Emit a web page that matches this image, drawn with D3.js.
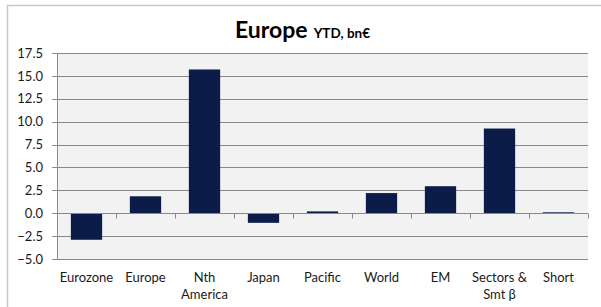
<!DOCTYPE html>
<html><head><meta charset="utf-8">
<script src="https://cdn.jsdelivr.net/npm/d3@7"></script>
<style>body{margin:0;background:#fff;} svg{display:block;}</style>
</head><body>
<svg id="c" width="601" height="307"></svg>
<script>
const categories = [["Eurozone"],["Europe"],["Nth","America"],["Japan"],["Pacific"],["World"],["EM"],["Sectors &","Smt β"],["Short"]];
const values = [-2.9, 1.85, 15.7, -1.05, 0.2, 2.2, 2.95, 9.25, 0.1];
const yTicks = [-5.0, -2.5, 0.0, 2.5, 5.0, 7.5, 10.0, 12.5, 15.0, 17.5];
const titleMain = "Europe";
const titleSub = "YTD, bn€";

const svg = d3.select("#c");
const font = "Lato, 'Open Sans', sans-serif";
const L = 57, R = 588, T = 53, B = 259;

// outer frame
svg.append("rect").attr("x",7.5).attr("y",5.5).attr("width",620).attr("height",320)
  .attr("fill","#fff").attr("stroke","#c8c8c8").attr("stroke-width",1.5);

const x = d3.scaleBand().domain(d3.range(categories.length)).range([L,R]).paddingInner(0.47).paddingOuter(0.235);
const y = d3.scaleLinear().domain([-5,17.5]).range([B,T]);

svg.append("rect").attr("x",L).attr("y",T).attr("width",R-L).attr("height",B-T).attr("fill","#f2f2f2");

// gridlines
svg.append("g").selectAll("line").data(yTicks).join("line")
  .attr("x1",L-5).attr("x2",R).attr("y1",d=>Math.round(y(d))+0.5).attr("y2",d=>Math.round(y(d))+0.5)
  .attr("stroke","#898989").attr("stroke-width",1);

// y axis line
svg.append("line").attr("x1",L+0.5).attr("x2",L+0.5).attr("y1",T).attr("y2",B+0.5).attr("stroke","#898989");

// y labels
const yAxis = d3.axisLeft(y).tickValues(yTicks).tickFormat(d3.format(".1f")).tickSize(0).tickPadding(14);
const ya = svg.append("g").attr("transform",`translate(${L},0)`).call(yAxis);
ya.select(".domain").remove();
ya.selectAll("text").attr("font-family",font).attr("font-size",13).attr("fill","#1a1a1a");

// bars
svg.append("g").selectAll("rect").data(values).join("rect")
  .attr("x",(d,i)=>x(i)).attr("width",x.bandwidth())
  .attr("y",d=>y(Math.max(0,d))).attr("height",d=>Math.abs(y(d)-y(0)))
  .attr("fill","#0c1c48");

// zero axis with ticks at category boundaries
const y0 = Math.round(y(0))+0.5;
svg.append("line").attr("x1",L).attr("x2",R).attr("y1",y0).attr("y2",y0).attr("stroke","#898989");
const bounds = d3.range(categories.length+1).map(i => L + i*(R-L)/categories.length);
svg.append("g").selectAll("line").data(bounds.slice(1)).join("line")
  .attr("x1",d=>Math.round(d)+0.5).attr("x2",d=>Math.round(d)+0.5).attr("y1",y0).attr("y2",y0+5)
  .attr("stroke","#898989");

// x labels
const xl = svg.append("g").selectAll("text").data(categories).join("text")
  .attr("x",(d,i)=>x(i)+x.bandwidth()/2).attr("y",282)
  .attr("text-anchor","middle").attr("font-family",font).attr("font-size",13).attr("fill","#1a1a1a");
xl.selectAll("tspan").data(d=>d).join("tspan")
  .attr("x",function(){return this.parentNode.getAttribute("x");})
  .attr("dy",(d,i)=>i===0?0:17).text(d=>d);

// title
const t = svg.append("text").attr("x",235).attr("y",38).attr("font-family",font).attr("font-weight","bold").attr("fill","#000");
t.append("tspan").attr("font-size",23).text(titleMain);
t.append("tspan").attr("font-size",13.5).attr("dx",6).text(titleSub);
</script>
</body></html>
